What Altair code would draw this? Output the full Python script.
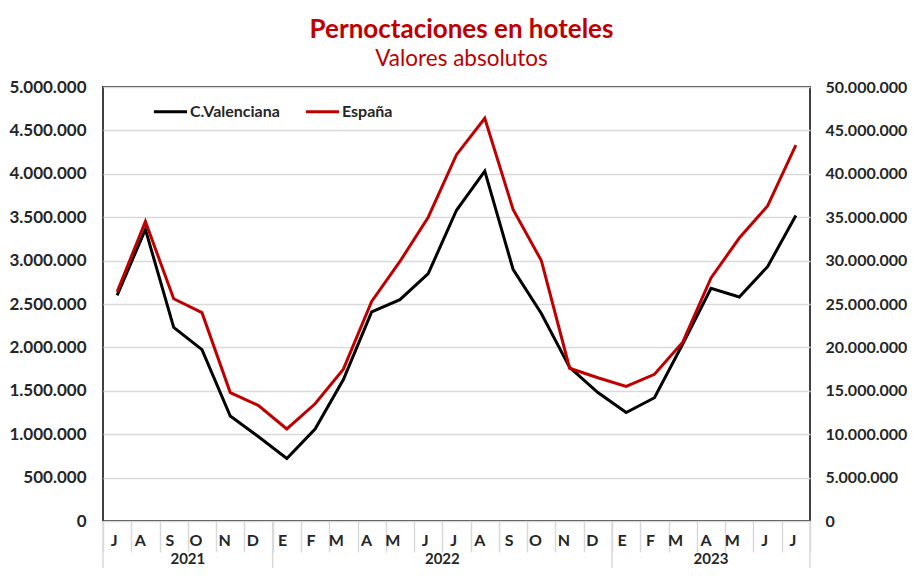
import json
import altair as alt
import pandas as pd

# ---- data ----
months = ["J", "A", "S", "O", "N", "D",
          "E", "F", "M", "A", "M", "J", "J", "A", "S", "O", "N", "D",
          "E", "F", "M", "A", "M", "J", "J"]
year_labels = ["2021", "2022", "2023"]
year_start_idx = [0, 6, 18]
valencia = [2600000, 3360000, 2230000, 1975000, 1210000, 970000,
            720000, 1060000, 1630000, 2410000, 2550000, 2850000, 3580000, 4030000,
            2900000, 2390000, 1770000, 1480000,
            1250000, 1420000, 2040000, 2680000, 2580000, 2930000, 3520000]
espana = [26400000, 34500000, 25600000, 24000000, 14800000, 13300000,
          10600000, 13500000, 17500000, 25300000, 29900000, 35000000, 42200000, 46400000,
          35900000, 30000000, 17600000, 16500000,
          15500000, 16900000, 20600000, 28000000, 32600000, 36300000, 43300000]
left_ticks = [0, 500000, 1000000, 1500000, 2000000, 2500000, 3000000, 3500000, 4000000, 4500000, 5000000]
right_ticks = [v * 10 for v in left_ticks]

n = len(months)
df = pd.DataFrame({
    "idx": list(range(n)) * 2,
    "serie": ["C.Valenciana"] * n + ["España"] * n,
    "value": valencia + espana,
})
sep_df = pd.DataFrame({"idx": year_start_idx})
end_df = pd.DataFrame({"idx": [n - 1]})
yr_a = pd.DataFrame({"idx": [3, 12], "year": year_labels[:2]})
yr_b = pd.DataFrame({"idx": [21], "year": year_labels[2:]})

W, H = 707, 434
FONT = "Lato"
GRID = "#d9d9d9"
TXT = "#262626"
num_expr = "replace(replace(format(datum.value, ',d'), ',', '.'), ',', '.')"

xaxis = alt.Axis(title=None, labelExpr=json.dumps(months) + "[datum.value]", labelAngle=0,
                 tickBand="extent", tickSize=31, tickColor=GRID, tickWidth=1.5,
                 domain=False, labelPadding=-12, labelFont=FONT, labelFontSize=16,
                 labelFontWeight="bold", labelColor=TXT)
xenc = alt.X("idx:O", scale=alt.Scale(paddingInner=0, paddingOuter=0), axis=xaxis)

color = alt.Color("serie:N",
                  scale=alt.Scale(domain=["C.Valenciana", "España"], range=["#000000", "#C00000"]),
                  legend=alt.Legend(title=None, orient="none", legendX=49, legendY=6,
                                    direction="horizontal", symbolType="stroke",
                                    symbolStrokeWidth=3, symbolSize=1100, labelFont=FONT,
                                    labelFontSize=16, labelFontWeight="bold", labelColor=TXT,
                                    columnPadding=19, labelOffset=1))

left = alt.Chart(df).transform_filter("datum.serie == 'C.Valenciana'").mark_line(strokeWidth=3).encode(
    x=xenc,
    y=alt.Y("value:Q", scale=alt.Scale(domain=[0, 5000000], nice=False),
            axis=alt.Axis(orient="left", title=None, values=left_ticks, labelExpr=num_expr,
                          grid=True, gridColor=GRID, gridWidth=1.5, ticks=False, domain=False,
                          labelPadding=17, labelFont=FONT, labelFontSize=17,
                          labelFontWeight="bold", labelColor=TXT)),
    color=color,
)
right = alt.Chart(df).transform_filter("datum.serie == 'España'").mark_line(strokeWidth=3).encode(
    x=alt.X("idx:O"),
    y=alt.Y("value:Q", scale=alt.Scale(domain=[0, 50000000], nice=False),
            axis=alt.Axis(orient="right", title=None, values=right_ticks, labelExpr=num_expr,
                          grid=False, ticks=False, domain=False,
                          labelPadding=15, labelFont=FONT, labelFontSize=16,
                          labelFontWeight="bold", labelColor=TXT)),
    color=color,
)

seps = alt.Chart(sep_df).mark_rule(color=GRID, strokeWidth=1.5).encode(
    x=alt.X("idx:O", bandPosition=0), y=alt.value(H), y2=alt.value(H + 47))
end_sep = alt.Chart(end_df).mark_rule(color=GRID, strokeWidth=1.5).encode(
    x=alt.X("idx:O", bandPosition=1), y=alt.value(H), y2=alt.value(H + 47))

ytxt = dict(font=FONT, fontSize=15, fontWeight="bold", baseline="middle", color=TXT)
years_a = alt.Chart(yr_a).mark_text(**ytxt).encode(
    x=alt.X("idx:O", bandPosition=0), y=alt.value(H + 38), text="year:N")
years_b = alt.Chart(yr_b).mark_text(**ytxt).encode(
    x=alt.X("idx:O", bandPosition=0.5), y=alt.value(H + 38), text="year:N")

chart = alt.layer(seps, end_sep, years_a, years_b, left, right).resolve_scale(
    y="independent"
).properties(
    width=W, height=H,
    autosize=alt.AutoSizeParams(type="none"),
    padding={"left": 95, "top": 79, "right": 98, "bottom": 47},
    title=alt.TitleParams("Pernoctaciones en hoteles", subtitle="Valores absolutos",
                          color="#C00000", subtitleColor="#C00000", font=FONT, subtitleFont=FONT,
                          fontSize=26, subtitleFontSize=22.5, fontWeight="bold",
                          subtitlePadding=5, anchor="middle", offset=8, dx=5),
).configure_view(stroke="#404040", strokeWidth=2)

chart.save("out.html", embed_options={"renderer": "svg", "actions": False})
